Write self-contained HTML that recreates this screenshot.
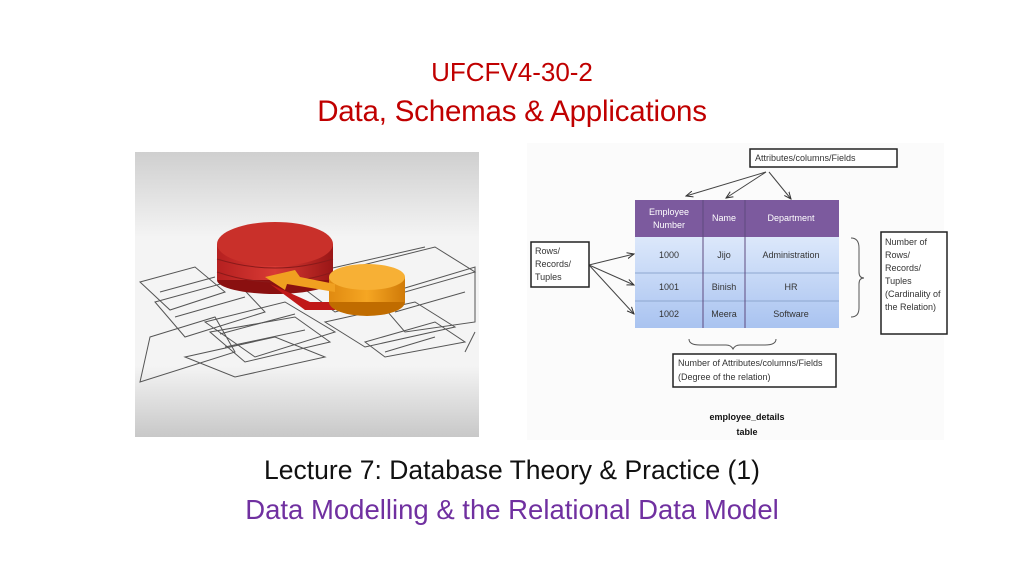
<!DOCTYPE html>
<html><head><style>
body{margin:0;width:1024px;height:576px;background:#fff;position:relative;overflow:hidden;font-family:"Liberation Sans",sans-serif}
.t{position:absolute;left:0;width:1024px;text-align:center;white-space:nowrap}
</style></head><body>
<div class="t" style="top:57px;font-size:26px;color:#c00000">UFCFV4-30-2</div>
<div class="t" style="top:95px;font-size:29.5px;color:#c00000;letter-spacing:-0.2px">Data, Schemas &amp; Applications</div>
<div class="t" style="top:455px;font-size:26.5px;color:#111">Lecture 7: Database Theory &amp; Practice (1)</div>
<div class="t" style="top:494px;font-size:27.5px;color:#7030a0">Data Modelling &amp; the Relational Data Model</div>

<svg style="position:absolute;left:135px;top:152px" width="344" height="285">
<defs>
<linearGradient id="bg" x1="0" y1="0" x2="0" y2="1"><stop offset="0" stop-color="#cfcfcf"/><stop offset=".3" stop-color="#f4f4f4"/><stop offset=".75" stop-color="#f4f4f4"/><stop offset="1" stop-color="#c8c8c8"/></linearGradient>
<linearGradient id="rd" x1="0" x2="1"><stop offset="0" stop-color="#b52020"/><stop offset=".5" stop-color="#d83a34"/><stop offset="1" stop-color="#9a1616"/></linearGradient>
<linearGradient id="or" x1="0" x2="1"><stop offset="0" stop-color="#e08a10"/><stop offset=".5" stop-color="#f5a623"/><stop offset="1" stop-color="#d07a08"/></linearGradient>
</defs>
<rect width="344" height="285" fill="url(#bg)"/>
<g fill="none" stroke="#555" stroke-width="1">
<path d="M5 130 L60 115 L90 140 L35 158Z M20 150 L100 128 L130 160 L50 185Z M70 170 L150 150 L200 180 L120 205Z M15 185 L80 165 L100 200 L5 230Z M75 180 L160 165 L195 190 L110 210Z M50 205 L140 185 L190 205 L100 225Z M160 130 L300 95 L340 120 L200 160Z M240 145 L340 115 L340 170 L270 180Z M190 170 L280 150 L320 175 L230 195Z M230 190 L300 170 L330 190 L250 205Z M340 180 L330 200"/>
<path d="M25 140 L80 125 M40 165 L110 145 M85 182 L160 162 M90 195 L170 178 M180 120 L290 95 M260 160 L330 140 M250 200 L300 185"/>
</g>
<ellipse cx="140" cy="128" rx="58" ry="14" fill="#8a1010"/>
<rect x="82" y="92" width="116" height="36" fill="url(#rd)"/>
<ellipse cx="140" cy="92" rx="58" ry="22" fill="#c9302a"/>
<path d="M82 120 Q140 140 198 120 M82 107 Q140 125 198 107" stroke="#8a1a1a" fill="none"/>
<path d="M135 132 L175 150 L200 150 L200 158 L170 158 Z" fill="#c01818"/>
<ellipse cx="232" cy="150" rx="38" ry="14" fill="#c06c00"/>
<rect x="194" y="125" width="76" height="25" fill="url(#or)"/>
<ellipse cx="232" cy="125" rx="38" ry="13" fill="#f7b035"/>
<path d="M200 132 L165 125 L160 118 L130 125 L150 138 L152 132 L200 140Z" fill="#f0a020"/>
</svg>

<svg style="position:absolute;left:0;top:0" width="1024" height="576">
<defs>
<linearGradient id="cell" x1="0" y1="0" x2="0" y2="1"><stop offset="0" stop-color="#dce8fb"/><stop offset="1" stop-color="#a9c3f0"/></linearGradient>
<marker id="a" markerWidth="8" markerHeight="8" refX="7" refY="4" orient="auto"><path d="M0 1 L7 4 L0 7" fill="none" stroke="#333" stroke-width="1"/></marker>
</defs>
<rect x="527" y="143" width="417" height="297" fill="#fbfbfb"/>
<g font-family="Liberation Sans, sans-serif" font-size="9" fill="#333">
<rect x="750" y="149" width="147" height="18" fill="#fff" stroke="#222" stroke-width="1.5"/>
<text x="755" y="161">Attributes/columns/Fields</text>
<g stroke="#444" fill="none" marker-end="url(#a)">
<line x1="766" y1="172" x2="686" y2="196"/>
<line x1="766" y1="172" x2="726" y2="198"/>
<line x1="769" y1="172" x2="791" y2="199"/>
<line x1="589" y1="265" x2="634" y2="254"/>
<line x1="589" y1="265" x2="634" y2="285"/>
<line x1="589" y1="265" x2="634" y2="314"/>
</g>
<rect x="635" y="200" width="204" height="37" fill="#7c5a9e"/>
<rect x="635" y="237" width="204" height="91" fill="url(#cell)"/>
<g stroke="#8da6cf" stroke-width="1"><line x1="635" y1="273" x2="839" y2="273"/><line x1="635" y1="301" x2="839" y2="301"/></g>
<g stroke="#5e4a7f" stroke-width="1"><line x1="703" y1="200" x2="703" y2="328"/><line x1="745" y1="200" x2="745" y2="328"/></g>
<g fill="#fff" text-anchor="middle"><text x="669" y="215">Employee</text><text x="669" y="228">Number</text><text x="724" y="221">Name</text><text x="791" y="221">Department</text></g>
<g text-anchor="middle"><text x="669" y="258">1000</text><text x="724" y="258">Jijo</text><text x="791" y="258">Administration</text>
<text x="669" y="290">1001</text><text x="724" y="290">Binish</text><text x="791" y="290">HR</text>
<text x="669" y="317">1002</text><text x="724" y="317">Meera</text><text x="791" y="317">Software</text></g>
<rect x="531" y="242" width="58" height="45" fill="#fff" stroke="#222" stroke-width="1.5"/>
<text x="535" y="254">Rows/</text><text x="535" y="267">Records/</text><text x="535" y="280">Tuples</text>
<path d="M851 238 Q859 238 859 248 L859 272 Q859 278 864 278 Q859 278 859 284 L859 308 Q859 317 851 317" fill="none" stroke="#555"/>
<rect x="881" y="232" width="66" height="102" fill="#fff" stroke="#222" stroke-width="1.5"/>
<text x="885" y="245">Number of</text><text x="885" y="258">Rows/</text><text x="885" y="271">Records/</text><text x="885" y="284">Tuples</text><text x="885" y="297">(Cardinality of</text><text x="885" y="310">the Relation)</text>
<path d="M689 339 Q689 345 700 345 L726 345 Q731 345 733 349 Q735 345 740 345 L765 345 Q776 345 776 339" fill="none" stroke="#555"/>
<rect x="673" y="354" width="163" height="33" fill="#fff" stroke="#222" stroke-width="1.5"/>
<text x="678" y="366">Number of Attributes/columns/Fields</text><text x="678" y="380">(Degree of the relation)</text>
<g font-weight="bold" fill="#111" text-anchor="middle"><text x="747" y="420">employee_details</text><text x="747" y="435">table</text></g>
</g>
</svg>
</body></html>
